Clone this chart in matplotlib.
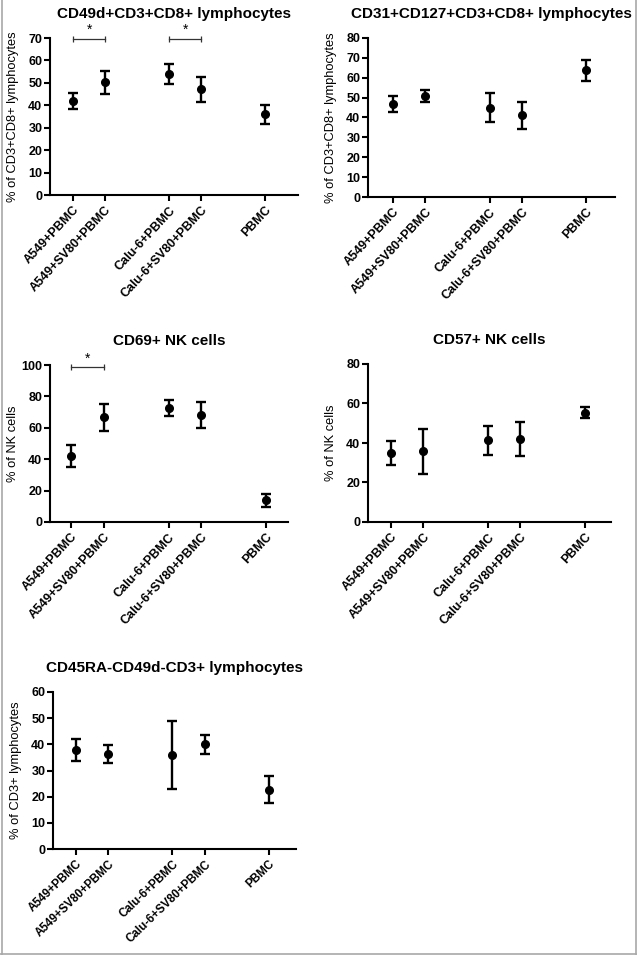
import matplotlib
matplotlib.use("Agg")
import matplotlib.pyplot as plt
from matplotlib.lines import Line2D

plt.rcParams['font.family'] = ['Liberation Sans', 'DejaVu Sans']

groups = ['A549+PBMC', 'A549+SV80+PBMC', 'Calu-6+PBMC', 'Calu-6+SV80+PBMC', 'PBMC']
xpos = [0, 1, 3, 4, 6]

titles = ['CD49d+CD3+CD8+ lymphocytes',
          'CD31+CD127+CD3+CD8+ lymphocytes',
          'CD69+ NK cells',
          'CD57+ NK cells',
          'CD45RA-CD49d-CD3+ lymphocytes']
ylabels = ['% of CD3+CD8+ lymphocytes',
           '% of CD3+CD8+ lymphocytes',
           '% of NK cells',
           '% of NK cells',
           '% of CD3+ lymphocytes']

mean_cd49d = [41.8, 50.3, 54.0, 47.2, 36.0]
sem_cd49d = [3.6, 5.1, 4.5, 5.6, 4.2]
mean_cd31 = [46.9, 50.6, 44.9, 41.1, 63.7]
sem_cd31 = [4.0, 3.0, 7.3, 6.9, 5.3]
mean_cd69 = [42.0, 66.7, 72.6, 68.2, 13.8]
sem_cd69 = [6.8, 8.6, 5.3, 8.1, 4.0]
mean_cd57 = [35.1, 35.8, 41.4, 41.9, 55.4]
sem_cd57 = [6.0, 11.5, 7.4, 8.7, 2.8]
mean_cd45 = [37.8, 36.3, 36.0, 40.0, 22.7]
sem_cd45 = [4.3, 3.5, 12.9, 3.6, 5.3]

means = [mean_cd49d, mean_cd31, mean_cd69, mean_cd57, mean_cd45]
sems = [sem_cd49d, sem_cd31, sem_cd69, sem_cd57, sem_cd45]
ymax = [70, 80, 100, 80, 60]
ystep = [10, 10, 20, 20, 10]

# significance brackets: panel index, group a, group b, bar height
sig = [(0, 0, 1, 69.7), (0, 2, 3, 69.7), (2, 0, 1, 98.8)]

W, H = 638, 955
fig = plt.figure(figsize=(W / 100, H / 100), dpi=100)

# axes boxes in pixels: left, top, right, bottom, xlim
boxes = [(50, 38, 298, 195, (-0.72, 7.03)),
         (368, 38, 615, 197, (-0.78, 6.9)),
         (50, 365, 288, 522, (-0.65, 6.68)),
         (368, 364, 611, 522, (-0.71, 6.8)),
         (53, 692, 296, 849, (-0.71, 6.84))]
lab_size = [9, 9, 9, 9, 8.4]
lab_rot = [47, 47, 47, 47, 44]

axes = []
for i, (l, t, r, b, xl) in enumerate(boxes):
    ax = fig.add_axes([l / W, 1 - b / H, (r - l) / W, (b - t) / H])
    axes.append(ax)
    ax.errorbar(xpos, means[i], yerr=sems[i], fmt='o', color='black', ms=5.5,
                elinewidth=1.7, capsize=3.8, capthick=1.7, clip_on=False)
    ax.set_xlim(*xl)
    ax.set_ylim(0, ymax[i])
    ax.set_yticks(range(0, ymax[i] + 1, ystep[i]))
    ax.set_xticks(xpos)
    ax.set_xticklabels(groups, rotation=lab_rot[i], ha='right', rotation_mode='anchor',
                       fontsize=lab_size[i], fontweight='bold')
    for lab in ax.get_yticklabels():
        lab.set_fontsize(9)
        lab.set_fontweight('bold')
    ax.tick_params(width=1.5, length=4, pad=1.5)
    ax.tick_params(axis='x', pad=2.5)
    ax.spines['top'].set_visible(False)
    ax.spines['right'].set_visible(False)
    ax.spines['left'].set_linewidth(1.5)
    ax.spines['bottom'].set_linewidth(1.5)
    fig.text((l + (r - l) / 2) / W, 1 - (t - 24) / H, titles[i], ha='center',
             va='center', fontsize=11, fontweight='bold')
    fig.text((l - 37) / W, 1 - (t + (b - t) / 2) / H, ylabels[i], rotation=90,
             ha='center', va='center', fontsize=9.3)

for p, a, bb, y in sig:
    ax = axes[p]
    x0, x1 = xpos[a], xpos[bb]
    ax.plot([x0, x1], [y, y], color='#333333', lw=0.9, clip_on=False)
    ax.plot([x0, x1], [y, y], ls='none', marker='|', ms=4, mew=0.9,
            color='#333333', clip_on=False)
    ax.text((x0 + x1) / 2, y + ymax[p] * 0.01, '*', ha='center', va='bottom',
            fontsize=10)

# grey frame round the figure
fc = '#a8a8a8'
fig.add_artist(Line2D([1.5 / W, 1.5 / W], [0, 1], color=fc, lw=1.2))
fig.add_artist(Line2D([636 / W, 636 / W], [0, 1], color=fc, lw=1.2))
fig.add_artist(Line2D([0, 636 / W], [1 - 953.5 / H, 1 - 953.5 / H], color=fc, lw=1.2))

fig.savefig('out.png', dpi=100)
